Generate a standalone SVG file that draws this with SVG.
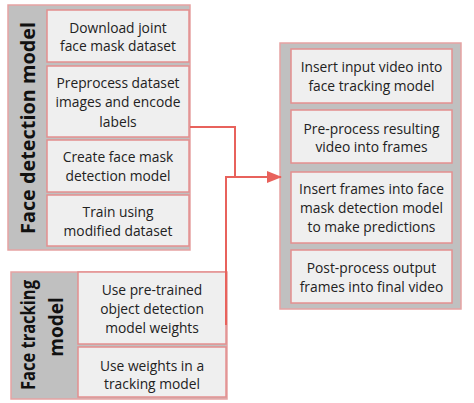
<svg xmlns="http://www.w3.org/2000/svg" width="474" height="403" viewBox="0 0 474 403">
<defs>
<style>
.grp{fill:#c0c0c0;stroke:#e6a3a3;stroke-width:1.5}
.box{fill:#efefef;stroke:#e48f8f;stroke-width:1.5}
.t{font-family:"Open Sans","Liberation Sans",sans-serif;font-size:13.8px;fill:#222;text-anchor:middle}
.h{font-family:"Open Sans","Liberation Sans",sans-serif;font-size:19px;font-weight:bold;fill:#111;text-anchor:middle}
.c{fill:none;stroke:#e8625c;stroke-width:2}
</style>
<marker id="ah" markerWidth="15" markerHeight="12" refX="14" refY="6" orient="auto" markerUnits="userSpaceOnUse" viewBox="0 0 15 12">
<path d="M0,0 L15,6 L0,12 Z" fill="#e8625c"/>
</marker>
</defs>
<rect width="474" height="403" fill="#fff"/>

<g id="face-detection-group">
<rect class="grp" x="8" y="5" width="182" height="245"/>
<text class="h" transform="translate(35,128) rotate(-90)" textLength="212" lengthAdjust="spacingAndGlyphs">Face detection model</text>
</g>
<g id="fd1"><rect class="box" x="47" y="10" width="142" height="52"/>
<text class="t" x="118" y="33">Download joint</text><text class="t" x="118" y="51">face mask dataset</text></g>
<g id="fd2"><rect class="box" x="47" y="66" width="142" height="71"/>
<text class="t" x="118" y="88">Preprocess dataset</text><text class="t" x="118" y="107">images and encode</text><text class="t" x="118" y="127">labels</text></g>
<g id="fd3"><rect class="box" x="47" y="140" width="142" height="52"/>
<text class="t" x="118" y="162">Create face mask</text><text class="t" x="118" y="181">detection model</text></g>
<g id="fd4"><rect class="box" x="47" y="195" width="142" height="51"/>
<text class="t" x="118" y="217">Train using</text><text class="t" x="118" y="236">modified dataset</text></g>

<g id="face-tracking-group">
<rect class="grp" x="11" y="272" width="216" height="127"/>
<text class="h" transform="translate(35,335) rotate(-90)" textLength="110" lengthAdjust="spacingAndGlyphs">Face tracking</text>
<text class="h" transform="translate(63,327) rotate(-90)">model</text>
</g>
<g id="ft1"><rect class="box" x="78" y="272" width="148" height="72"/>
<text class="t" x="152" y="295">Use pre-trained</text><text class="t" x="152" y="314">object detection</text><text class="t" x="152" y="333">model weights</text></g>
<g id="ft2"><rect class="box" x="78" y="347" width="148" height="50"/>
<text class="t" x="152" y="371">Use weights in a</text><text class="t" x="152" y="389">tracking model</text></g>

<g id="pipeline-group">
<rect class="grp" x="280" y="43" width="181" height="266"/>
</g>
<g id="p1"><rect class="box" x="291" y="49" width="161" height="54"/>
<text class="t" x="371.5" y="72">Insert input video into</text><text class="t" x="371.5" y="91">face tracking model</text></g>
<g id="p2"><rect class="box" x="291" y="110" width="161" height="53"/>
<text class="t" x="371.5" y="134">Pre-process resulting</text><text class="t" x="371.5" y="152">video into frames</text></g>
<g id="p3"><rect class="box" x="291" y="172" width="161" height="71"/>
<text class="t" x="371.5" y="194">Insert frames into face</text><text class="t" x="371.5" y="213">mask detection model</text><text class="t" x="371.5" y="232">to make predictions</text></g>
<g id="p4"><rect class="box" x="291" y="250" width="161" height="53"/>
<text class="t" x="371.5" y="273">Post-process output</text><text class="t" x="371.5" y="292">frames into final video</text></g>

<g id="connectors">
<path class="c" d="M190,127 H235 V177"/>
<path class="c" d="M226,325 V177 H281" marker-end="url(#ah)"/>
</g>
</svg>
